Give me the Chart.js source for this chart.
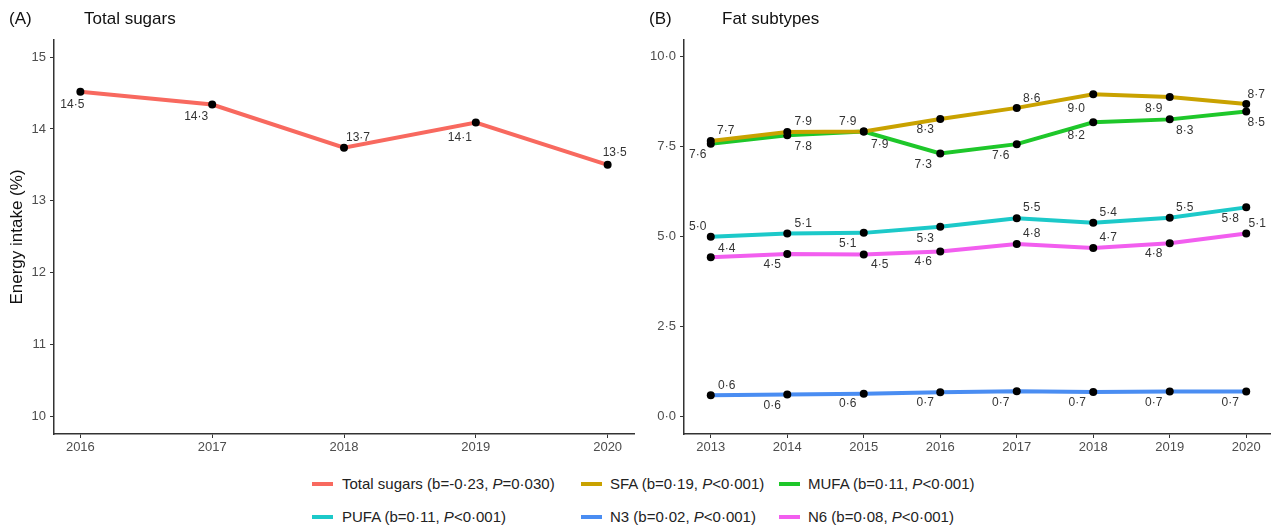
<!DOCTYPE html>
<html>
<head>
<meta charset="utf-8">
<script src="https://cdn.jsdelivr.net/npm/chart.js@4"></script>
<style>
    body { margin: 0; width: 1271px; height: 526px; overflow: hidden; background: #fff; position: relative;
           font-family: "Liberation Sans", Arial, sans-serif; }
    .box { position: absolute; top: 0; height: 460px; }
    #boxA { left: 0; width: 640px; }
    #boxB { left: 640px; width: 640px; }
    .ttl { position: absolute; top: 9px; font-size: 17px; color: #111; white-space: nowrap; }
    .leg { position: absolute; font-size: 15px; color: #222; white-space: nowrap; line-height: 18px; }
    .sw { position: absolute; width: 21px; height: 4px; }
</style>
</head>
<body>
<div class="box" id="boxA"><canvas id="chartA"></canvas></div>
<div class="box" id="boxB"><canvas id="chartB"></canvas></div>
<div class="ttl" style="left:9px">(A)</div>
<div class="ttl" style="left:84px">Total sugars</div>
<div class="ttl" style="left:649px">(B)</div>
<div class="ttl" style="left:722px">Fat subtypes</div>
<div id="legend"></div>

<script>
// -- Data --
const sugarYears = [2016, 2017, 2018, 2019, 2020];
const sugarValues = [14.52, 14.34, 13.74, 14.09, 13.50];

const fatYears = [2013, 2014, 2015, 2016, 2017, 2018, 2019, 2020];
const sfaValues = [7.66, 7.91, 7.92, 8.27, 8.58, 8.96, 8.88, 8.69];
const mufaValues = [7.58, 7.82, 7.92, 7.31, 7.57, 8.18, 8.26, 8.48];
const pufaValues = [4.99, 5.08, 5.10, 5.27, 5.51, 5.38, 5.52, 5.81];
const n3Values = [0.58, 0.60, 0.62, 0.66, 0.69, 0.67, 0.68, 0.68];
const n6Values = [4.42, 4.51, 4.50, 4.58, 4.79, 4.68, 4.81, 5.08];

const sugarTicks = [10, 11, 12, 13, 14, 15];
const fatTicks = [0, 2.5, 5, 7.5, 10];

const legendNames = ['Total sugars', 'SFA', 'MUFA', 'PUFA', 'N3', 'N6'];
const legendB = ['-0·23', '0·19', '0·11', '0·11', '0·02', '0·08'];
const legendP = ['=0·030', '<0·001', '<0·001', '<0·001', '<0·001', '<0·001'];

// -- Styles --
const colors = {
    sugars: '#F8695F',
    sfa: '#C9A200',
    mufa: '#1EC72A',
    pufa: '#1CC9C9',
    n3: '#4A8DF2',
    n6: '#F25EEF'
};
const legendColors = [colors.sugars, colors.sfa, colors.mufa, colors.pufa, colors.n3, colors.n6];

// label nudges (px) per point, like the repelled labels in the original
const sugarLabelPos = [[-8, 13], [-16, 12], [14, -10], [-16, 15], [7, -12]];
const sfaLabelPos = [[15, -10], [16, -10], [-16, -10], [-15, 11], [15, -9], [-17, 14], [-16, 12], [10, -9]];
const mufaLabelPos = [[-13, 11], [16, 12], [16, 13], [-17, 11], [-16, 12], [-17, 13], [15, 11], [10, 11]];
const pufaLabelPos = [[-13, -10], [16, -10], [-16, 11], [-15, 12], [15, -10], [15, -10], [15, -10], [-16, 11]];
const n3LabelPos = [[16, -10], [-15, 11], [-16, 10], [-15, 10], [-16, 11], [-16, 11], [-16, 11], [-16, 11]];
const n6LabelPos = [[16, -9], [-15, 11], [16, 10], [-17, 10], [15, -10], [15, -10], [-16, 10], [11, -10]];

const fmt = v => v.toFixed(1).replace('.', '·');
const FONT = '"Liberation Sans", Arial, sans-serif';

// -- Helpers --
const toPoints = values => values.map((v, i) => ({ x: i, y: v }));

function lineSet(label, values, color, labelPos) {
    return {
        label: label,
        data: toPoints(values),
        borderColor: color,
        backgroundColor: '#000',
        borderWidth: 4,
        pointRadius: 4,
        pointBorderWidth: 0,
        pointBackgroundColor: '#000',
        tension: 0,
        labelPos: labelPos
    };
}

const pointLabels = {
    id: 'pointLabels',
    afterDatasetsDraw(chart) {
        const ctx = chart.ctx;
        ctx.save();
        ctx.font = '12px ' + FONT;
        ctx.fillStyle = '#333';
        ctx.textAlign = 'center';
        ctx.textBaseline = 'middle';
        chart.data.datasets.forEach((ds, i) => {
            chart.getDatasetMeta(i).data.forEach((pt, j) => {
                const [dx, dy] = ds.labelPos[j];
                ctx.fillText(fmt(ds.data[j].y), pt.x + dx, pt.y + dy);
            });
        });
        ctx.restore();
    }
};

function axisStyle() {
    return {
        grid: { display: true, drawOnChartArea: false, drawTicks: true, tickLength: 4, color: '#333', lineWidth: 1 },
        border: { display: true, color: '#333', width: 1.5 }
    };
}

function makeChart(id, years, datasets, opts) {
    const ctx = document.getElementById(id).getContext('2d');
    return new Chart(ctx, {
        type: 'line',
        data: { datasets: datasets },
        plugins: [pointLabels],
        options: {
            responsive: true,
            maintainAspectRatio: false,
            animation: false,
            layout: { padding: { top: 40, right: opts.padRight, left: 0, bottom: 0 } },
            scales: {
                x: {
                    type: 'linear',
                    min: opts.xMin,
                    max: opts.xMax,
                    ...axisStyle(),
                    afterBuildTicks: scale => { scale.ticks = years.map((y, i) => ({ value: i })); },
                    afterFit: scale => { scale.height = 26; },
                    ticks: {
                        color: '#4d4d4d',
                        font: { family: FONT, size: 13 },
                        padding: 2,
                        maxRotation: 0,
                        callback: v => years[v]
                    }
                },
                y: {
                    min: opts.yMin,
                    max: opts.yMax,
                    ...axisStyle(),
                    afterBuildTicks: scale => { scale.ticks = opts.yTicks.map(v => ({ value: v })); },
                    afterFit: scale => { scale.width = opts.yWidth; },
                    title: {
                        display: !!opts.yTitle,
                        text: opts.yTitle || '',
                        color: '#111',
                        font: { family: FONT, size: 17 },
                        padding: { top: 7, bottom: 0 }
                    },
                    ticks: {
                        color: '#4d4d4d',
                        font: { family: FONT, size: 13 },
                        padding: 4,
                        callback: opts.yFmt
                    }
                }
            },
            plugins: {
                legend: { display: false },
                tooltip: { enabled: false }
            }
        }
    });
}

// -- Charts --
makeChart('chartA', sugarYears, [
    lineSet('Total sugars', sugarValues, colors.sugars, sugarLabelPos)
], {
    xMin: -0.2, xMax: 4.2, yMin: 9.75, yMax: 15.24,
    yTicks: sugarTicks, yFmt: v => String(v), yTitle: 'Energy intake (%)',
    yWidth: 54, padRight: 6
});

makeChart('chartB', fatYears, [
    lineSet('SFA', sfaValues, colors.sfa, sfaLabelPos),
    lineSet('MUFA', mufaValues, colors.mufa, mufaLabelPos),
    lineSet('PUFA', pufaValues, colors.pufa, pufaLabelPos),
    lineSet('N3', n3Values, colors.n3, n3LabelPos),
    lineSet('N6', n6Values, colors.n6, n6LabelPos)
], {
    xMin: -0.35, xMax: 7.35, yMin: -0.5, yMax: 10.47,
    yTicks: fatTicks, yFmt: v => fmt(v), yTitle: null,
    yWidth: 44, padRight: 7
});

// -- Legend --
const legendEl = document.getElementById('legend');
const legendCols = [[312, 342], [581, 610], [779, 808]];
const legendRows = [484, 517];
legendNames.forEach((name, i) => {
    const [sx, tx] = legendCols[i % 3];
    const y = legendRows[Math.floor(i / 3)];
    const sw = document.createElement('div');
    sw.className = 'sw';
    sw.style.left = sx + 'px';
    sw.style.top = (y - 2) + 'px';
    sw.style.background = legendColors[i];
    legendEl.appendChild(sw);
    const txt = document.createElement('div');
    txt.className = 'leg';
    txt.style.left = tx + 'px';
    txt.style.top = (y - 9) + 'px';
    txt.innerHTML = `${name} (b=${legendB[i]}, <i>P</i>${legendP[i]})`;
    legendEl.appendChild(txt);
});
</script>
</body>
</html>
